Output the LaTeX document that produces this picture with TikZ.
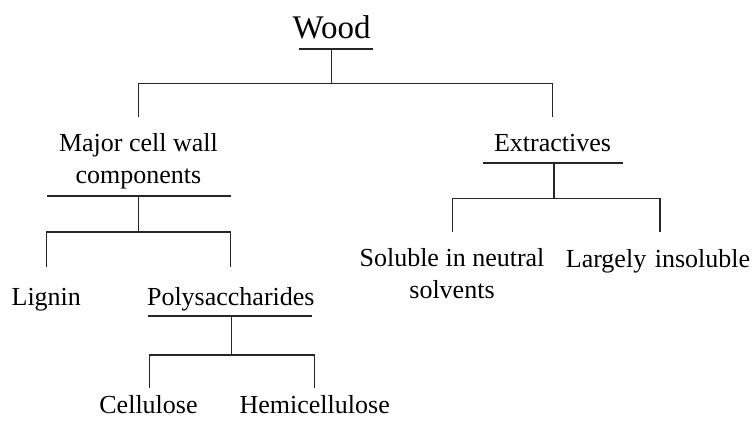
\documentclass[tikz,border=0pt]{standalone}
\usepackage{fontspec}
\setmainfont{Liberation Serif}
\begin{document}
\begin{tikzpicture}[x=1pt,y=-1pt,
  lbl/.style={anchor=base,inner sep=0pt,font=\fontsize{26}{31.7}\selectfont},
  big/.style={anchor=base,inner sep=0pt,font=\fontsize{33}{38}\selectfont},
  conn/.style={draw=black!85,line width=1.5pt,line cap=butt}]
\useasboundingbox[fill=white] (0,0) rectangle (754,420);

% nodes
\node[big] (wood) at (331.5,38.3) {Wood};
\node[lbl] (mcw) at (138.5,151.7) {\begin{tabular}[t]{@{}c@{}}Major cell wall\\components\end{tabular}};
\node[lbl] (ext) at (552.5,151.2) {Extractives};
\node[lbl] (lig) at (46.3,305) {Lignin};
\node[lbl] (poly) at (230.8,305) {Polysaccharides};
\node[lbl] (sol) at (452,266.7) {\begin{tabular}[t]{@{}c@{}}Soluble in neutral\\solvents\end{tabular}};
\node[lbl] (ins) at (658,267) {Largely\hspace{0.08em} insoluble};
\node[lbl,text depth=0pt] (cel) at (148.5,413) {Cellulose};
\node[lbl,text depth=0pt] (hem) at (314.7,413) {Hemicellulose};

% junction coordinates
\coordinate (woodL) at (299.3,49);
\coordinate (woodR) at (373.3,49);
\coordinate (woodS) at (331.7,49);
\coordinate (woodJ) at (331.7,83.5);
\coordinate (mcwT) at (138.3,117.3);
\coordinate (extT) at (552.7,117.3);

\coordinate (mcwL) at (47.3,196);
\coordinate (mcwR) at (230.7,196);
\coordinate (mcwS) at (138.3,196);
\coordinate (mcwJ) at (138.3,232);
\coordinate (ligT) at (46.7,267.3);
\coordinate (polyT) at (230.7,267.3);

\coordinate (extL) at (483.3,163);
\coordinate (extR) at (623.3,163);
\coordinate (extS) at (554,163);
\coordinate (extJ) at (554,198.3);
\coordinate (solT) at (452.7,231.7);
\coordinate (insT) at (660,231.7);

\coordinate (polyL) at (148.3,316);
\coordinate (polyR) at (312.3,316);
\coordinate (polyS) at (231.7,316);
\coordinate (polyJ) at (231.7,355);
\coordinate (celT) at (149.3,388.3);
\coordinate (hemT) at (314.3,388.3);

% connectors
\draw[conn] (woodL) -- (woodR);
\draw[conn] (woodS) -- (woodJ);
\draw[conn] (mcwT) |- (woodJ) -| (extT);

\draw[conn] (mcwL) -- (mcwR);
\draw[conn] (mcwS) -- (mcwJ);
\draw[conn] (ligT) |- (mcwJ) -| (polyT);

\draw[conn] (extL) -- (extR);
\draw[conn] (extS) -- (extJ);
\draw[conn] (solT) |- (extJ) -| (insT);

\draw[conn] (polyL) -- (polyR);
\draw[conn] (polyS) -- (polyJ);
\draw[conn] (celT) |- (polyJ) -| (hemT);
\end{tikzpicture}
\end{document}
